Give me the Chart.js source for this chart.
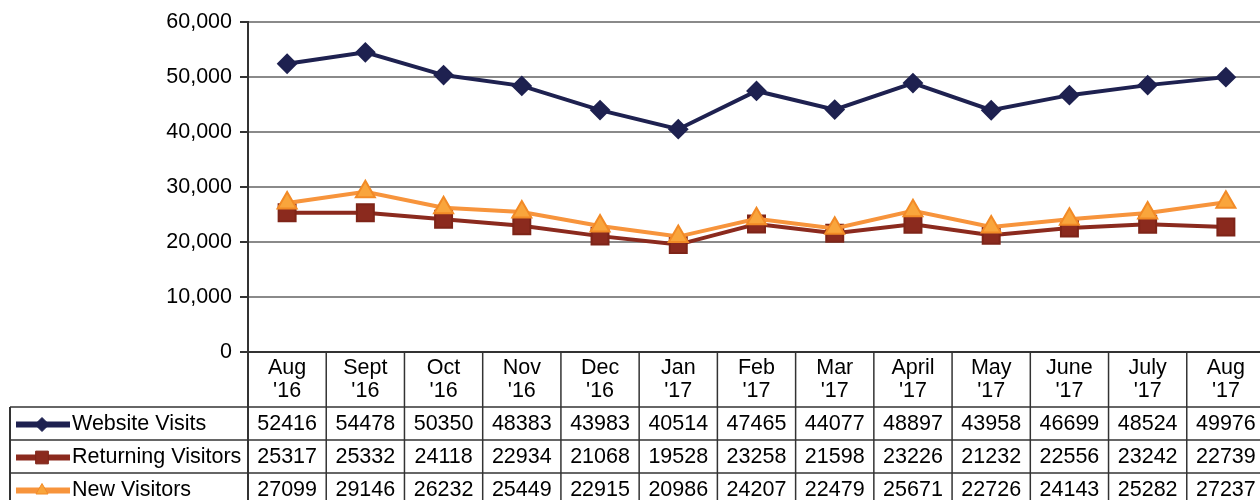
<!DOCTYPE html>
<html>
<head>
<meta charset="utf-8">
<script src="https://cdn.jsdelivr.net/npm/chart.js@4"></script>
<style>
  html, body { margin: 0; padding: 0; background: #fff; overflow: hidden; }
  #wrap { width: 1279px; height: 500px; position: relative; }
</style>
</head>
<body>
<div id="wrap"><canvas id="visitsChart"></canvas></div>
<script>
// months along the x axis (two lines each, as in the table header)
var months = [
    ['Aug', "'16"], ['Sept', "'16"], ['Oct', "'16"], ['Nov', "'16"], ['Dec', "'16"],
    ['Jan', "'17"], ['Feb', "'17"], ['Mar', "'17"], ['April', "'17"], ['May', "'17"],
    ['June', "'17"], ['July', "'17"], ['Aug', "'17"]
];
var websiteVisits = [52416, 54478, 50350, 48383, 43983, 40514, 47465, 44077, 48897, 43958, 46699, 48524, 49976];
var returningVisitors = [25317, 25332, 24118, 22934, 21068, 19528, 23258, 21598, 23226, 21232, 22556, 23242, 22739];
var newVisitors = [27099, 29146, 26232, 25449, 22915, 20986, 24207, 22479, 25671, 22726, 24143, 25282, 27237];
var yTicks = [0, 10000, 20000, 30000, 40000, 50000, 60000];

var tableFont = '21.5px "Liberation Sans", Arial, sans-serif';
var lineColor = '#333';

// draws the data table under the plot, column edges taken from the x scale
var dataTablePlugin = {
    id: 'dataTable',
    afterDraw: function (chart) {
        var ctx = chart.ctx;
        var x = chart.scales.x;
        var area = chart.chartArea;
        var half = (x.getPixelForValue(1) - x.getPixelForValue(0)) / 2;
        var headerBottom = area.bottom + 55;
        var rowH = 33;
        var left = 10;
        var bottom = chart.height;

        ctx.save();
        ctx.strokeStyle = lineColor;
        ctx.lineWidth = 1.5;

        // column separators
        for (var i = 0; i < months.length; i++) {
            var edge = x.getPixelForValue(i) + half;
            ctx.beginPath();
            ctx.moveTo(edge, area.bottom);
            ctx.lineTo(edge, bottom);
            ctx.stroke();
        }
        ctx.lineWidth = 2;
        ctx.beginPath();
        ctx.moveTo(area.left, area.bottom);
        ctx.lineTo(area.left, bottom);
        ctx.moveTo(left, headerBottom);
        ctx.lineTo(left, bottom);
        ctx.stroke();

        ctx.lineWidth = 1.5;
        for (var r = 0; r < 3; r++) {
            var yy = headerBottom + r * rowH;
            ctx.beginPath();
            ctx.moveTo(left, yy);
            ctx.lineTo(chart.width, yy);
            ctx.stroke();
        }

        // header labels
        ctx.fillStyle = '#000';
        ctx.font = tableFont;
        ctx.textAlign = 'center';
        ctx.textBaseline = 'middle';
        months.forEach(function (m, i) {
            var cx = x.getPixelForValue(i);
            ctx.fillText(m[0], cx, area.bottom + 16);
            ctx.fillText(m[1], cx, area.bottom + 39);
        });

        // rows
        chart.data.datasets.forEach(function (ds, r) {
            var cy = headerBottom + r * rowH + rowH / 2 + 1;
            ds.data.forEach(function (v, i) {
                ctx.fillStyle = '#000';
                ctx.textAlign = 'center';
                ctx.fillText(String(v), x.getPixelForValue(i), cy);
            });
            // legend key
            ctx.strokeStyle = ds.borderColor;
            ctx.lineWidth = 6;
            ctx.beginPath();
            ctx.moveTo(16, cy);
            ctx.lineTo(70, cy);
            ctx.stroke();
            ctx.fillStyle = ds.pointBackgroundColor;
            ctx.strokeStyle = ds.pointBorderColor;
            ctx.lineWidth = 1;
            Chart.helpers.drawPoint(ctx, {
                pointStyle: ds.pointStyle,
                radius: ds.legendRadius,
                rotation: 0,
                borderWidth: 1
            }, 42, cy);
            ctx.fillStyle = '#000';
            ctx.textAlign = 'left';
            ctx.fillText(ds.label, 72, cy);
        });
        ctx.restore();
    }
};

new Chart(document.getElementById('visitsChart'), {
    type: 'line',
    data: {
        labels: months,
        datasets: [{
            label: 'Website Visits',
            data: websiteVisits,
            borderColor: '#1e2150',
            borderWidth: 4,
            pointStyle: 'rectRot',
            pointRadius: 9,
            pointBackgroundColor: '#1e2150',
            pointBorderColor: '#1e2150',
            pointBorderWidth: 2,
            legendRadius: 7,
            tension: 0,
            order: 0
        }, {
            label: 'Returning Visitors',
            data: returningVisitors,
            borderColor: '#8b2a1e',
            borderWidth: 4,
            pointStyle: 'rect',
            pointRadius: 12,
            pointBackgroundColor: '#8b2a1e',
            pointBorderColor: '#7e2418',
            pointBorderWidth: 2,
            legendRadius: 9,
            tension: 0,
            order: 2
        }, {
            label: 'New Visitors',
            data: newVisitors,
            borderColor: '#f7943c',
            borderWidth: 4,
            pointStyle: 'triangle',
            pointRadius: 11,
            pointBackgroundColor: '#f9a53c',
            pointBorderColor: '#f28a26',
            pointBorderWidth: 2,
            legendRadius: 7,
            tension: 0,
            order: 1
        }]
    },
    options: {
        responsive: true,
        maintainAspectRatio: false,
        animation: false,
        layout: { padding: { top: 22, bottom: 148, left: 0, right: 0 } },
        scales: {
            x: {
                offset: true,
                grid: { display: false, drawTicks: false },
                ticks: { display: false },
                border: { display: true, color: lineColor, width: 2 }
            },
            y: {
                min: 0,
                max: 60000,
                afterFit: function (scale) { scale.width = 248; },
                afterBuildTicks: function (scale) {
                    scale.ticks = yTicks.map(function (v) { return { value: v }; });
                },
                grid: { color: '#8a8a8a', lineWidth: 2, tickLength: 8, tickColor: lineColor },
                border: { display: true, color: lineColor, width: 2 },
                ticks: {
                    padding: 8,
                    color: '#000',
                    font: { family: '"Liberation Sans", Arial, sans-serif', size: 21.5 },
                    callback: function (v) { return v.toLocaleString('en-US'); }
                }
            }
        },
        plugins: {
            legend: { display: false },
            tooltip: { enabled: false }
        }
    },
    plugins: [dataTablePlugin]
});
</script>
</body>
</html>
